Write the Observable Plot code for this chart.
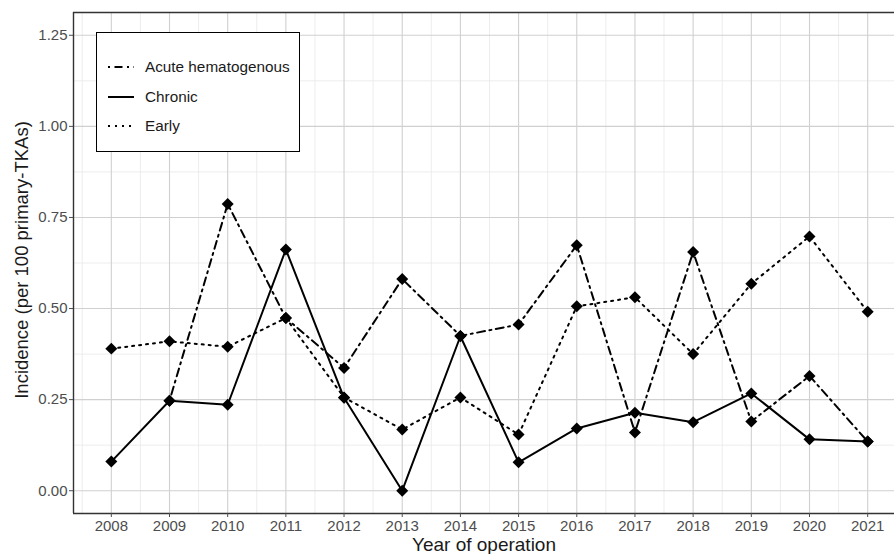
<!DOCTYPE html>
<html><head><meta charset="utf-8">
<script src="https://cdn.jsdelivr.net/npm/d3@7"></script>
<script src="https://cdn.jsdelivr.net/npm/@observablehq/plot@0.6"></script>
<style>
html,body{margin:0;padding:0;background:#fff;overflow:hidden}
#wrap{position:relative;width:894px;height:554px;overflow:hidden}
#legend{position:absolute;left:96px;top:32px;width:204px;height:120px;border:1.6px solid #000;background:#fff;font-family:"Liberation Sans",Arial,sans-serif;font-size:15.3px;box-sizing:border-box;color:#1a1a1a}
.row{position:absolute;left:11px;height:20px;display:flex;align-items:center}
.row svg{margin-right:11px}
</style></head>
<body><div id="wrap"></div>
<script>
const years = [2008,2009,2010,2011,2012,2013,2014,2015,2016,2017,2018,2019,2020,2021];
const acute   = [null, 0.247, 0.787, 0.474, 0.337, 0.581, 0.425, 0.456, 0.674, 0.160, 0.655, 0.190, 0.315, 0.135];
const chronic = [0.080, 0.247, 0.236, 0.662, 0.255, 0.000, 0.424, 0.078, 0.171, 0.214, 0.188, 0.267, 0.141, 0.135];
const early   = [0.390, 0.410, 0.395, 0.474, 0.256, 0.168, 0.256, 0.154, 0.506, 0.531, 0.375, 0.568, 0.698, 0.491];
const seriesNames = ["Acute hematogenous", "Chronic", "Early"];
const yTicks = [0, 0.25, 0.5, 0.75, 1.0, 1.25];
const yMinor = [0.125, 0.375, 0.625, 0.875, 1.125];
const xMinor = [2007.5,2008.5,2009.5,2010.5,2011.5,2012.5,2013.5,2014.5,2015.5,2016.5,2017.5,2018.5,2019.5,2020.5,2021.5];

const seriesValues = {"Acute hematogenous": acute, "Chronic": chronic, "Early": early};
const rows = [];
for (const s of seriesNames) {
  years.forEach((yr, i) => { const v = seriesValues[s][i]; if (v != null) rows.push({year: yr, value: v, series: s}); });
}
const lw = 2;
const dash = {
  "Acute hematogenous": "2,4.5,8,4.5",
  "Chronic": null,
  "Early": "2,5"
};
const font = '"Liberation Sans", Arial, Helvetica, sans-serif';

const chart = Plot.plot({
  width: 894, height: 554,
  marginLeft: 73, marginRight: 0, marginTop: 12, marginBottom: 41,
  style: {fontFamily: font, fontSize: "15px", background: "#fff", overflow: "hidden"},
  x: {domain: [2007.35, 2021.65], range: [73, 905]},
  y: {domain: [-0.0625, 1.3125]},
  marks: [
    Plot.gridX(xMinor, {stroke: "#e8e8e8", strokeOpacity: 1, strokeWidth: 0.8}),
    Plot.gridY(yMinor, {stroke: "#e8e8e8", strokeOpacity: 1, strokeWidth: 0.8}),
    Plot.gridX(years, {stroke: "#d0d0d0", strokeOpacity: 1, strokeWidth: 1.1}),
    Plot.gridY(yTicks, {stroke: "#d0d0d0", strokeOpacity: 1, strokeWidth: 1.1}),
    ...seriesNames.map(s => Plot.line(rows.filter(d => d.series === s), {
      x: "year", y: "value", stroke: "#000", strokeWidth: lw,
      strokeDasharray: dash[s] ?? undefined
    })),
    Plot.dot(rows, {x: "year", y: "value", symbol: "diamond2", r: 5.4, fill: "#000"}),
    Plot.ruleX([2007.35], {stroke: "#333", strokeWidth: 1.4}),
    Plot.ruleY([-0.0625], {stroke: "#333", strokeWidth: 1.4}),
    Plot.ruleY([1.3125], {stroke: "#333", strokeWidth: 1.4}),
    Plot.axisX(years, {tickSize: 4, tickPadding: 3, tickFormat: d => String(d), label: null, fontSize: 15, color: "#4d4d4d"}),
    Plot.axisY(yTicks, {tickSize: 4, tickPadding: 2, tickFormat: d3.format(".2f"), label: null, fontSize: 15, color: "#4d4d4d"}),
    Plot.text(["Incidence (per 100 primary-TKAs)"], {frameAnchor: "left", textAnchor: "middle", rotate: -90, dx: -51, dy: -3, fontSize: 18.5, fill: "#1a1a1a"}),
    Plot.text(["Year of operation"], {frameAnchor: "bottom", dy: 37, fontSize: 19, fill: "#1a1a1a"})
  ]
});
const wrap = document.getElementById("wrap");
wrap.appendChild(chart);

// legend
const legend = document.createElement("div");
legend.id = "legend";
const rowTops = [24, 54, 83];
seriesNames.forEach((s, i) => {
  const row = document.createElement("div");
  row.className = "row";
  row.style.top = rowTops[i] + "px";
  const d = dash[s] ? ` stroke-dasharray="${dash[s]}"` : "";
  row.innerHTML = `<svg width="26" height="10"><line x1="0" x2="26" y1="5" y2="5" stroke="#000" stroke-width="${lw}"${d}/></svg><span>${s}</span>`;
  legend.appendChild(row);
});
wrap.appendChild(legend);
</script>
</body></html>
